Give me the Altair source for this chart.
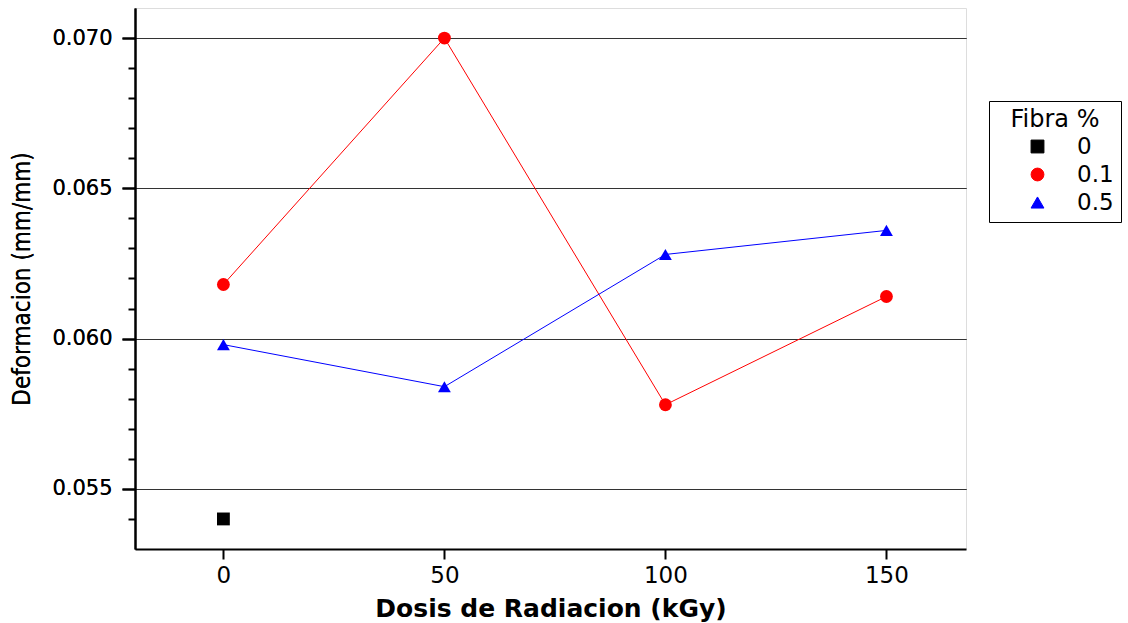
import altair as alt
import pandas as pd

# ---- data ----
dosis = [0, 50, 100, 150]
fibra_levels = ["0", "0.1", "0.5"]
dosis_f0 = [0]
def_f0 = [0.0540]
def_f01 = [0.0618, 0.0700, 0.0578, 0.0614]
def_f05 = [0.0598, 0.0584, 0.0628, 0.0636]
series_colors = ["#000000", "#ff0000", "#0000ff"]
series_shapes = ["square", "circle", "triangle-up"]
x_ticks = [0, 50, 100, 150]
y_major = [0.055, 0.060, 0.065, 0.070]
y_minor = [0.054, 0.056, 0.057, 0.058, 0.059, 0.061, 0.062, 0.063, 0.064,
           0.066, 0.067, 0.068, 0.069]

rows = []
for d, v in zip(dosis_f0, def_f0):
    rows.append({"Dosis": d, "Def": v, "Fibra": "0"})
for d, v in zip(dosis, def_f01):
    rows.append({"Dosis": d, "Def": v, "Fibra": "0.1"})
for d, v in zip(dosis, def_f05):
    rows.append({"Dosis": d, "Def": v, "Fibra": "0.5"})
df = pd.DataFrame(rows)
minor_df = pd.DataFrame({"m": y_minor})

FONT = "DejaVu Sans"
COND = "DejaVu Sans Condensed, Liberation Sans Narrow, DejaVu Sans"

xscale = alt.Scale(domain=[-20, 168], nice=False, zero=False)
yscale = alt.Scale(domain=[0.0530, 0.0710], nice=False, zero=False)

x_enc = alt.X("Dosis:Q", scale=xscale, axis=alt.Axis(
    values=x_ticks, format="d", title="Dosis de Radiacion (kGy)",
    labelFont=FONT, labelFontSize=23, labelColor="black", labelPadding=5,
    titleFont=FONT, titleFontSize=25, titleFontWeight="bold", titleColor="black",
    titlePadding=9, tickSize=10, tickWidth=2, tickColor="black",
    domainColor="black", domainWidth=2, grid=False))
y_enc = alt.Y("Def:Q", scale=yscale, axis=alt.Axis(
    values=y_major, format=".3f", title="Deformacion (mm/mm)", orient="left",
    labelFont=FONT, labelFontSize=21, labelColor="black", labelPadding=10,
    titleFont=COND, titleFontSize=24, titleFontWeight="normal", titleColor="black",
    titlePadding=17, tickSize=13, tickWidth=2, tickColor="black",
    domainColor="black", domainWidth=2, grid=True, gridColor="#333333", gridWidth=1))

leg = alt.Legend(
    orient="none", legendX=854, legendY=93, title="Fibra %",
    titleFont=FONT, titleFontSize=24, titleFontWeight="normal",
    titleColor="black", titleAnchor="middle", titlePadding=3,
    labelFont=FONT, labelFontSize=23, labelColor="black",
    symbolSize=165, symbolStrokeWidth=1,
    symbolOffset=30, labelOffset=28, strokeColor="black",
    padding=7, rowPadding=4)

color_enc = alt.Color("Fibra:N", scale=alt.Scale(domain=fibra_levels, range=series_colors),
                      legend=leg)
shape_enc = alt.Shape("Fibra:N", scale=alt.Scale(domain=fibra_levels, range=series_shapes),
                      legend=leg)

lines = alt.Chart(df).mark_line(strokeWidth=1).encode(x=x_enc, y=y_enc, color=color_enc)

points = alt.Chart(df).mark_point(filled=True, opacity=1, size=165).encode(
    x=x_enc, y=y_enc, color=color_enc, shape=shape_enc)

minor = alt.Chart(minor_df).mark_tick(opacity=0).encode(
    y=alt.Y("m:Q", scale=alt.Scale(domain=[0.0530, 0.0710], nice=False, zero=False),
            axis=alt.Axis(values=y_minor, orient="left", labels=False, title=None,
                          tickSize=7, tickWidth=2, tickColor="black", domain=False,
                          grid=False)))

chart = alt.layer(lines, points, minor).resolve_scale(
    y="independent"
).properties(
    width=831, height=541,
    autosize=alt.AutoSizeParams(type="none"),
    padding={"left": 135, "top": 8, "right": 162, "bottom": 74},
).configure_view(stroke="black", strokeWidth=2).configure(background="white")

chart.save("out.html", embed_options={"renderer": "svg", "actions": False})
